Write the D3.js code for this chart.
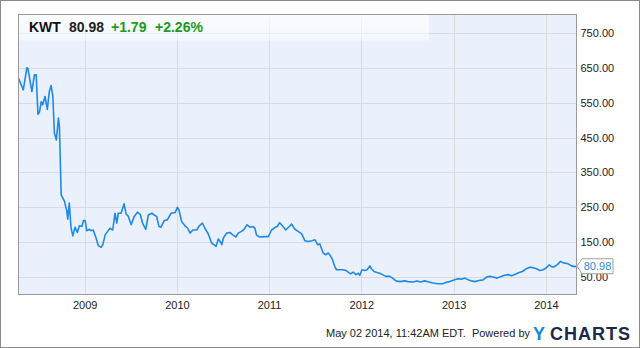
<!DOCTYPE html>
<html>
<head>
<meta charset="utf-8">
<script src="https://cdn.jsdelivr.net/npm/d3@7"></script>
<style>
  body { margin: 0; background: #fff; }
  svg { display: block; font-family: "Liberation Sans", Arial, sans-serif; }
</style>
</head>
<body>
<div id="chart"></div>
<script>
/* global d3 */

// KWT closing prices
const dates = [
  '2008-04-14', '2008-05-03', '2008-05-17', '2008-05-21', '2008-06-06', '2008-06-16', '2008-06-23',
  '2008-06-30', '2008-07-06', '2008-07-13', '2008-07-19', '2008-07-28', '2008-08-06', '2008-08-14',
  '2008-08-21', '2008-08-28', '2008-09-03', '2008-09-11', '2008-09-19', '2008-09-23', '2008-09-30',
  '2008-10-13', '2008-10-22', '2008-10-26', '2008-11-01', '2008-11-08', '2008-11-15', '2008-11-24',
  '2008-12-03', '2008-12-11', '2008-12-21', '2008-12-27', '2009-01-03', '2009-01-09', '2009-01-20',
  '2009-01-26', '2009-02-04', '2009-02-15', '2009-02-24', '2009-03-07', '2009-03-14', '2009-03-23',
  '2009-04-02', '2009-04-11', '2009-04-22', '2009-05-01', '2009-05-08', '2009-05-14', '2009-05-25',
  '2009-06-06', '2009-06-14', '2009-06-23', '2009-07-04', '2009-07-16', '2009-07-29', '2009-08-09',
  '2009-08-18', '2009-08-31', '2009-09-10', '2009-09-24', '2009-10-03', '2009-10-13', '2009-10-22',
  '2009-10-30', '2009-11-12', '2009-11-24', '2009-12-09', '2009-12-25', '2010-01-03', '2010-01-09',
  '2010-01-20', '2010-02-02', '2010-02-13', '2010-02-22', '2010-03-05', '2010-03-20', '2010-03-31',
  '2010-04-12', '2010-04-22', '2010-05-05', '2010-05-19', '2010-05-28', '2010-06-05', '2010-06-14',
  '2010-06-21', '2010-06-28', '2010-07-04', '2010-07-17', '2010-07-30', '2010-08-10', '2010-08-23',
  '2010-09-01', '2010-09-14', '2010-09-24', '2010-10-06', '2010-10-17', '2010-10-28', '2010-11-06',
  '2010-11-12', '2010-11-23', '2010-12-15', '2010-12-29', '2011-01-11', '2011-01-24', '2011-02-02',
  '2011-02-12', '2011-02-23', '2011-03-08', '2011-03-22', '2011-03-31', '2011-04-13', '2011-04-26',
  '2011-05-10', '2011-05-23', '2011-06-05', '2011-06-19', '2011-07-02', '2011-07-12', '2011-07-21',
  '2011-08-03', '2011-08-14', '2011-08-23', '2011-09-01', '2011-09-09', '2011-09-18', '2011-09-25',
  '2011-10-21', '2011-11-01', '2011-11-10', '2011-11-20', '2011-11-30', '2011-12-11', '2011-12-20',
  '2011-12-26', '2012-01-04', '2012-01-15', '2012-01-24', '2012-02-04', '2012-02-11', '2012-02-20',
  '2012-03-04', '2012-03-14', '2012-03-25', '2012-04-07', '2012-04-23', '2012-05-04', '2012-05-17',
  '2012-06-02', '2012-06-21', '2012-07-04', '2012-07-24', '2012-08-09', '2012-08-22', '2012-09-08',
  '2012-09-25', '2012-10-11', '2012-10-31', '2012-11-18', '2012-12-03', '2012-12-16', '2013-01-05',
  '2013-01-18', '2013-02-01', '2013-02-14', '2013-02-27', '2013-03-12', '2013-03-25', '2013-04-11',
  '2013-04-27', '2013-05-11', '2013-05-24', '2013-06-06', '2013-06-22', '2013-07-09', '2013-07-22',
  '2013-08-04', '2013-08-18', '2013-09-04', '2013-09-17', '2013-09-30', '2013-10-13', '2013-10-29',
  '2013-11-11', '2013-11-25', '2013-12-08', '2013-12-21', '2014-01-01', '2014-01-14', '2014-01-23',
  '2014-02-01', '2014-02-14', '2014-02-28', '2014-03-08', '2014-03-17', '2014-03-30', '2014-04-12',
  '2014-04-25', '2014-05-02',
];
const prices = [
  620, 587, 650, 649, 582, 630, 630,
  517, 523, 553, 544, 568, 531, 582,
  599, 568, 463, 443, 506, 482, 286,
  267, 240, 216, 262, 192, 168, 193,
  178, 197, 195, 212, 212, 183, 187,
  183, 185, 162, 140, 135, 143, 171,
  181, 190, 185, 233, 205, 233, 233,
  260, 231, 224, 200, 224, 236, 230,
  205, 187, 228, 233, 228, 224, 195,
  193, 212, 214, 233, 235, 250, 243,
  209, 197, 190, 176, 185, 185, 197,
  205, 190, 174, 147, 143, 138, 159,
  152, 143, 162, 176, 178, 171, 165,
  176, 181, 187, 200, 193, 195, 190,
  171, 165, 166, 166, 185, 192, 195,
  206, 197, 185, 195, 202, 187, 181,
  174, 154, 152, 154, 157, 143, 145,
  119, 114, 119, 111, 100, 80, 71,
  71, 69, 64, 59, 64, 57, 61,
  55, 71, 69, 71, 82, 73, 66,
  63, 61, 57, 52, 52, 47, 39,
  37, 39, 37, 36, 39, 36, 39,
  36, 33, 31, 31, 35, 37, 42,
  45, 44, 47, 42, 39, 37, 40,
  42, 50, 52, 50, 47, 52, 55,
  57, 54, 59, 63, 66, 73, 78,
  77, 74, 69, 71, 76, 85, 80,
  79, 85, 95, 92, 90, 88, 82,
  80, 80.98,
];
const yTicks = [50, 150, 250, 350, 450, 550, 650, 750];
const xTicks = ['2009-01-01', '2010-01-01', '2011-01-01', '2012-01-01', '2013-01-01', '2014-01-01'];
const ticker = 'KWT';
const lastPrice = '80.98';
const change = '+1.79';
const changePct = '+2.26%';
const stamp = 'May 02 2014, 11:42AM EDT.  Powered by';

const width = 640;
const height = 348;
const plot = { left: 18.5, top: 14.5, right: 576.5, bottom: 294.5 };
const parse = d3.timeParse('%Y-%m-%d');
const data = dates.map((d, i) => ({ date: parse(d), value: prices[i] }));

const x = d3.scaleTime()
  .domain([parse('2008-04-14'), parse('2014-05-02')])
  .range([plot.left, plot.right]);
const y = d3.scaleLinear()
  .domain([0, 803])
  .range([plot.bottom, plot.top]);

const svg = d3.select('#chart').append('svg')
  .attr('width', width)
  .attr('height', height);

// outer frame
svg.append('rect')
  .attr('x', 0.5).attr('y', 0.5)
  .attr('width', width - 1).attr('height', height - 1)
  .attr('fill', '#fff')
  .attr('stroke', '#8a8a8a');

svg.append('rect')
  .attr('x', plot.left).attr('y', plot.top)
  .attr('width', plot.right - plot.left).attr('height', plot.bottom - plot.top)
  .attr('fill', '#eaf1fc');

// grid
svg.append('g')
  .selectAll('line')
  .data(yTicks)
  .enter().append('line')
  .attr('x1', plot.left).attr('x2', plot.right)
  .attr('y1', d => Math.round(y(d)) + 0.5).attr('y2', d => Math.round(y(d)) + 0.5)
  .attr('stroke', '#d9dbe0');

svg.append('g')
  .selectAll('line')
  .data(xTicks.map(parse))
  .enter().append('line')
  .attr('x1', d => Math.round(x(d)) + 0.5).attr('x2', d => Math.round(x(d)) + 0.5)
  .attr('y1', plot.top).attr('y2', plot.bottom)
  .attr('stroke', '#d9dbe0');

// price line
const line = d3.line()
  .x(d => x(d.date))
  .y(d => y(d.value));

svg.append('path')
  .datum(data)
  .attr('d', line)
  .attr('fill', 'none')
  .attr('stroke', '#1f8ae6')
  .attr('stroke-width', 1.6)
  .attr('stroke-linejoin', 'round');

// header band
const grad = svg.append('defs').append('linearGradient')
  .attr('id', 'hdr')
  .attr('x1', 0).attr('y1', 0).attr('x2', 0).attr('y2', 1);
grad.append('stop').attr('offset', '0%').attr('stop-color', '#fff').attr('stop-opacity', 0.75);
grad.append('stop').attr('offset', '100%').attr('stop-color', '#fff').attr('stop-opacity', 0.45);

svg.append('rect')
  .attr('x', plot.left).attr('y', plot.top)
  .attr('width', 429 - plot.left).attr('height', 26)
  .attr('fill', 'url(#hdr)');

const head = svg.append('text')
  .attr('x', 29).attr('y', 32)
  .attr('font-size', 14)
  .attr('font-weight', 'bold');
head.append('tspan').attr('fill', '#111').text(ticker);
head.append('tspan').attr('x', 69).attr('fill', '#222').text(lastPrice);
head.append('tspan').attr('x', 111).attr('fill', '#1c9b1c').text(change);
head.append('tspan').attr('x', 155).attr('fill', '#1c9b1c').text(changePct);

// plot border
svg.append('rect')
  .attr('x', plot.left).attr('y', plot.top)
  .attr('width', plot.right - plot.left).attr('height', plot.bottom - plot.top)
  .attr('fill', 'none')
  .attr('stroke', '#9a9a9a');

// axes
const yAxis = svg.append('g')
  .attr('transform', `translate(${plot.right},0)`)
  .call(d3.axisRight(y).tickValues(yTicks).tickSize(0).tickPadding(4)
    .tickFormat(d3.format('.2f')));
yAxis.select('.domain').remove();
yAxis.selectAll('text')
  .attr('font-family', '"Liberation Sans", Arial, sans-serif')
  .attr('font-size', 11)
  .attr('fill', '#222');

const xAxis = svg.append('g')
  .attr('transform', `translate(0,${plot.bottom})`)
  .call(d3.axisBottom(x).tickValues(xTicks.map(parse)).tickSize(0).tickPadding(7)
    .tickFormat(d3.timeFormat('%Y')));
xAxis.select('.domain').remove();
xAxis.selectAll('text')
  .attr('font-family', '"Liberation Sans", Arial, sans-serif')
  .attr('font-size', 11)
  .attr('fill', '#222');

// last value flag
const last = data[data.length - 1];
const ly = y(last.value);
const flag = svg.append('g').attr('transform', `translate(${plot.right},${ly})`);
flag.append('path')
  .attr('d', 'M0.5,0 L5.5,-7.5 L36.5,-7.5 L36.5,7.5 L5.5,7.5 Z')
  .attr('fill', '#fff')
  .attr('stroke', '#a0a0a0');
flag.append('text')
  .attr('x', 21).attr('y', 4)
  .attr('text-anchor', 'middle')
  .attr('font-size', 11)
  .attr('fill', '#2a8be0')
  .text(lastPrice);

// footer
svg.append('text')
  .attr('x', 530).attr('y', 337)
  .attr('text-anchor', 'end')
  .attr('font-size', 11)
  .attr('fill', '#222')
  .attr('xml:space', 'preserve')
  .text(stamp);

const logo = svg.append('text')
  .attr('x', 533).attr('y', 340)
  .attr('font-size', 18)
  .attr('font-weight', 'bold');
logo.append('tspan').attr('fill', '#1a86d6').text('Y');
logo.append('tspan').attr('x', 550).attr('fill', '#1b2a48')
  .attr('textLength', 80).attr('lengthAdjust', 'spacing').text('CHARTS');
</script>
</body>
</html>
